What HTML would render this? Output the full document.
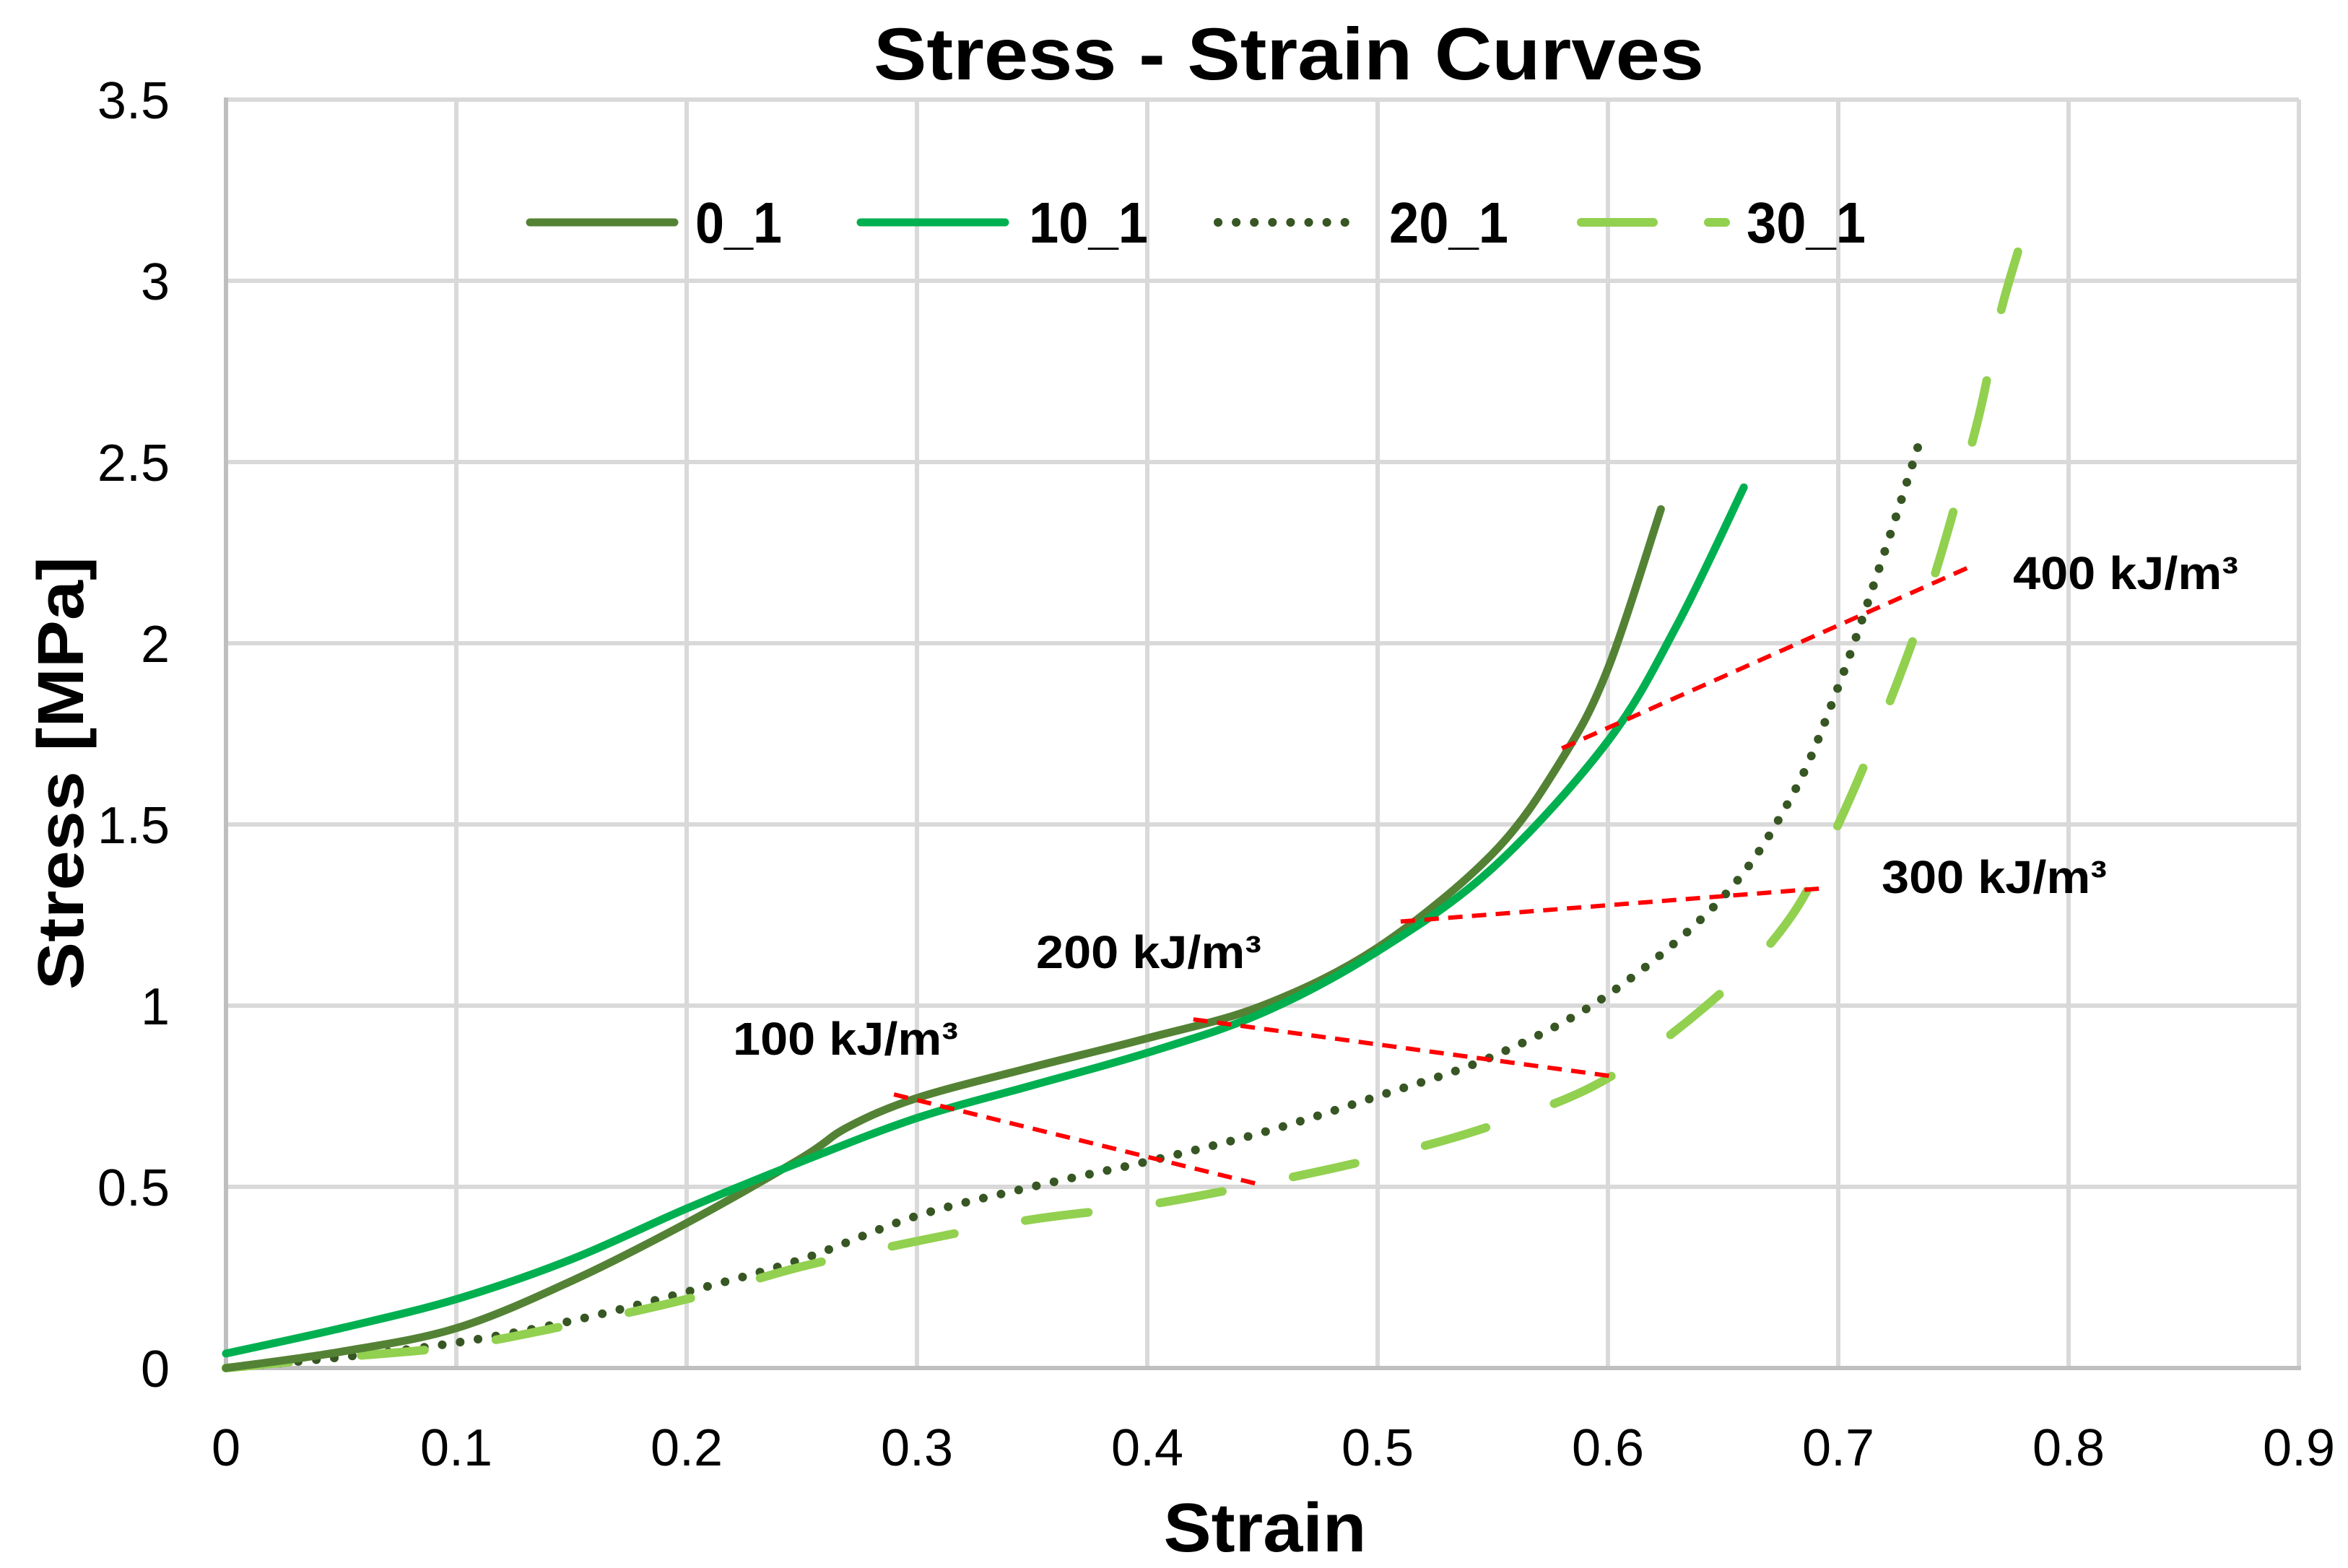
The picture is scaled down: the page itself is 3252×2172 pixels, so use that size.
<!DOCTYPE html>
<html><head><meta charset="utf-8"><style>
html,body{margin:0;padding:0;background:#fff}
svg{display:block}
text{font-family:"Liberation Sans",Arial,sans-serif}
</style></head><body>
<svg id="chart" width="3252" height="2172" viewBox="0 0 3252 2172" xmlns="http://www.w3.org/2000/svg">
<g id="grid"></g>
<g id="series"></g>
<g id="annot"></g>
<g id="ticks"></g>
<text x="1785" y="110" text-anchor="middle" font-size="102" font-weight="bold" textLength="1150" lengthAdjust="spacingAndGlyphs">Stress - Strain Curves</text>
<text x="1752" y="2149" text-anchor="middle" font-size="96" font-weight="bold" textLength="281" lengthAdjust="spacingAndGlyphs">Strain</text>
<text transform="translate(115,1071) rotate(-90)" text-anchor="middle" font-size="90" font-weight="bold" textLength="600" lengthAdjust="spacingAndGlyphs">Stress [MPa]</text>
<g id="legend"></g>
</svg>
<script>
const xTicks=[0,0.1,0.2,0.3,0.4,0.5,0.6,0.7,0.8,0.9];
const yTicks=[0,0.5,1,1.5,2,2.5,3,3.5];
const xTickLabels=["0","0.1","0.2","0.3","0.4","0.5","0.6","0.7","0.8","0.9"];
const yTickLabels=["0","0.5","1","1.5","2","2.5","3","3.5"];
const seriesNames=["0_1","10_1","20_1","30_1"];
const s0x=[0,0.05,0.1,0.15,0.2,0.25,0.27,0.3,0.35,0.4,0.45,0.5,0.55,0.58,0.6,0.623];
const s0y=[0,0.045,0.11,0.24,0.4,0.58,0.665,0.745,0.83,0.91,1.0,1.16,1.42,1.68,1.93,2.37];
const s1x=[0,0.05,0.1,0.15,0.2,0.25,0.3,0.35,0.4,0.45,0.5,0.55,0.6,0.63,0.659];
const s1y=[0.04,0.11,0.19,0.3,0.44,0.57,0.69,0.78,0.87,0.98,1.15,1.38,1.73,2.05,2.43];
const s2x=[0,0.05,0.1,0.15,0.2,0.25,0.3,0.35,0.4,0.45,0.5,0.55,0.6,0.65,0.68,0.7,0.72,0.736];
const s2y=[0,0.03,0.07,0.13,0.21,0.3,0.42,0.5,0.57,0.65,0.75,0.86,1.03,1.3,1.58,1.88,2.25,2.57];
const s3x=[0,0.05,0.1,0.15,0.2,0.25,0.3,0.35,0.4,0.45,0.5,0.55,0.6,0.65,0.68,0.7,0.72,0.74,0.76,0.77,0.778];
const s3y=[0,0.03,0.06,0.12,0.19,0.28,0.35,0.41,0.45,0.51,0.58,0.67,0.8,1.04,1.25,1.5,1.8,2.15,2.6,2.9,3.08];
const energyLabels=["100 kJ/m³","200 kJ/m³","300 kJ/m³","400 kJ/m³"];
const energyX1=[0.29,0.42,0.51,0.58];
const energyY1=[0.755,0.962,1.232,1.71];
const energyX2=[0.449,0.602,0.694,0.759];
const energyY2=[0.506,0.805,1.324,2.216];

const X0=313,XS=3190,Y0=1895,YS=502;
function xs(v){return X0+v*XS}
function ys(v){return Y0-v*YS}
const NS="http://www.w3.org/2000/svg";
function mk(tag,parent,attrs){const e=document.createElementNS(NS,tag);for(const k in attrs)e.setAttribute(k,attrs[k]);parent.appendChild(e);return e;}
const grid=document.getElementById('grid');
xTicks.forEach((t,i)=>{if(i===0)return;
 const l=mk('line',grid,{x1:xs(t),x2:xs(t),y1:ys(3.5),y2:ys(0),stroke:'#d9d9d9','stroke-width':6});
 
 });
yTicks.forEach((t,i)=>{if(i===0)return;
 const l=mk('line',grid,{x1:xs(0),x2:xs(0.9),y1:ys(t),y2:ys(t),stroke:'#d9d9d9','stroke-width':6});
 
 });
const ax=mk('line',grid,{x1:xs(0),x2:xs(0.9)+3,y1:ys(0),y2:ys(0),stroke:'#bfbfbf','stroke-width':6});


const ay=mk('line',grid,{x1:xs(0),x2:xs(0),y1:ys(3.5)-3,y2:ys(0),stroke:'#bfbfbf','stroke-width':6});



const ticks=document.getElementById('ticks');
xTicks.forEach((t,i)=>{const e=mk('text',ticks,{x:xs(t),y:2030,'text-anchor':'middle','font-size':72});e.textContent=xTickLabels[i];
 
 });
yTicks.forEach((t,i)=>{const e=mk('text',ticks,{x:235,y:ys(t)+26,'text-anchor':'end','font-size':72});e.textContent=yTickLabels[i];
 
 });

function pathD(xa,ya){const p=xa.map((x,i)=>[xs(x),ys(ya[i])]);let d='M'+p[0][0]+','+p[0][1];
 for(let i=0;i<p.length-1;i++){const a=p[Math.max(0,i-1)],b=p[i],c=p[i+1],e=p[Math.min(p.length-1,i+2)];
  const c1=[b[0]+(c[0]-a[0])/6,b[1]+(c[1]-a[1])/6],c2=[c[0]-(e[0]-b[0])/6,c[1]-(e[1]-b[1])/6];
  d+=' C'+c1[0].toFixed(1)+','+c1[1].toFixed(1)+' '+c2[0].toFixed(1)+','+c2[1].toFixed(1)+' '+c[0].toFixed(1)+','+c[1].toFixed(1);}
 return d;}
const styles=[{stroke:'#548235',w:11,dash:null},{stroke:'#00b050',w:11,dash:null},{stroke:'#375623',w:12,dash:'0.1 25'},{stroke:'#92d050',w:12,dash:'88 100'}];
const sx=[s0x,s1x,s2x,s3x],sy=[s0y,s1y,s2y,s3y];
const sg=document.getElementById('series');
[2,3,0,1].forEach(i=>{const st=styles[i];const a={d:pathD(sx[i],sy[i]),fill:'none',stroke:st.stroke,'stroke-width':st.w,'stroke-linecap':'round','stroke-linejoin':'round'};
 if(st.dash)a['stroke-dasharray']=st.dash;
 const p=mk('path',sg,a);
 
 });

const an=document.getElementById('annot');
const lblPos=[[1015,1437],[1435,1317],[2606,1213],[2788,792]];
energyLabels.forEach((t,i)=>{
 const l=mk('line',an,{x1:xs(energyX1[i]),y1:ys(energyY1[i]),x2:xs(energyX2[i]),y2:ys(energyY2[i]),stroke:'#ff0000','stroke-width':6,'stroke-dasharray':'20 13'});
 
 
 const e=mk('text',an,{x:lblPos[i][0],y:lblPos[i][1]+24,'font-size':64,'font-weight':'bold',textLength:312,lengthAdjust:'spacingAndGlyphs'});
 e.textContent=t;
 
 });

const lg=document.getElementById('legend');
const legX=[728,1186,1681,2184],legT=[963,1425,1924,2419],legW=[120,165,165,165];
seriesNames.forEach((n,i)=>{const st=styles[i];
 const a={x1:legX[i]+6,x2:legX[i]+206,y1:308,y2:308,stroke:st.stroke,'stroke-width':st.w,'stroke-linecap':'round'};
 if(i===3)a['stroke-dasharray']='100 76';else if(st.dash)a['stroke-dasharray']=st.dash;
 const l=mk('line',lg,a);
 
 
 const e=mk('text',lg,{x:legT[i],y:336,'font-size':80,'font-weight':'bold',textLength:legW[i],lengthAdjust:'spacingAndGlyphs'});
 e.textContent=n;
 
 });
</script>
</body></html>
